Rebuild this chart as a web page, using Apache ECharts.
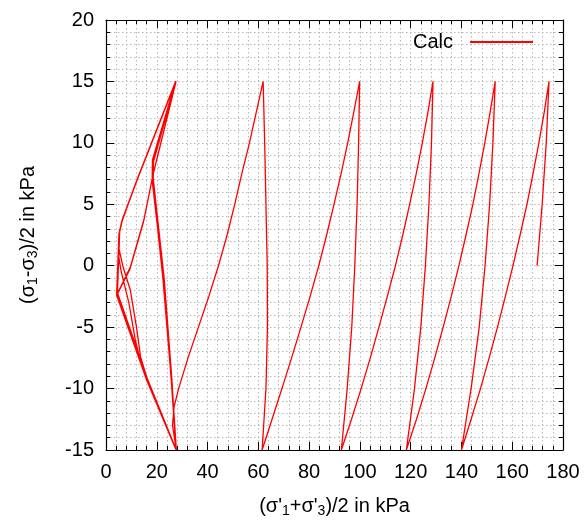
<!DOCTYPE html>
<html><head><meta charset="utf-8">
<script src="https://cdn.jsdelivr.net/npm/echarts@6/dist/echarts.min.js"></script>
<style>html,body{margin:0;padding:0;background:#fff}#c{width:588px;height:523px}</style>
</head><body><div id="c"></div>
<script>
// Axis settings / tick labels
const xTicks = [0,20,40,60,80,100,120,140,160,180];
const yTicks = [-15,-10,-5,0,5,10,15,20];
const seriesName = 'Calc';

// Stress path segments (p', q)
const startUp = [[169.8,0],[171.8,5],[173.4,10],[174.5,15]];
const down1 = [[172.6,12.5],[170.5,10],[168.2,7.5],[165.8,5],[163.1,2.5],[160.3,0],[157.3,-2.5],[154.2,-5],[150.9,-7.5],[147.5,-10],[143.8,-12.5],[140.0,-15]];
const up2 = [[143.8,-10],[147.0,-5],[149.3,0],[151.1,5],[152.4,10],[153.3,15]];
const down2 = [[151.3,12.5],[149.2,10],[146.9,7.5],[144.5,5],[141.8,2.5],[139.0,0],[136.0,-2.5],[132.8,-5],[129.5,-7.5],[126.0,-10],[122.3,-12.5],[118.3,-15]];
const up3 = [[121.5,-10],[124.0,-5],[125.8,0],[127.2,5],[128.2,10],[128.8,15]];
const down3 = [[126.8,12.5],[124.6,10],[122.2,7.5],[119.6,5],[116.9,2.5],[114.0,0],[110.8,-2.5],[107.5,-5],[104.1,-7.5],[100.5,-10],[96.7,-12.5],[92.7,-15]];
const up4 = [[95.0,-10],[96.8,-5],[98.0,0],[98.9,5],[99.5,10],[99.9,15]];
const down4 = [[97.6,12.5],[95.2,10],[92.6,7.5],[89.8,5],[86.9,2.5],[83.8,0],[80.4,-2.5],[76.8,-5],[73.1,-7.5],[69.3,-10],[65.4,-12.5],[61.5,-15]];
const up5 = [[63.0,-10],[63.6,-5],[63.5,0],[63.0,5],[62.5,10],[61.9,15]];
const down5 = [[59.2,12.5],[56.5,10],[53.5,7.5],[50.7,5],[47.7,2.5],[44.3,0],[40.5,-2.5],[36.4,-5],[32.3,-7.5],[28.6,-10],[26.8,-11.5],[26.2,-13],[27.7,-15]];
// butterfly cycles
const compA = [[25.8,-9.2],[22.6,-1.1],[18.3,7.0],[18.4,8.5],[27.5,15]];
const extA = [[12.3,7.0],[6.4,3.7],[5.4,2.8],[5.0,1.5],[6.6,0],[9.6,-2.0],[12.0,-5.0],[13.6,-7.4],[16.2,-9.2],[27.6,-15]];
const compB = [[25.6,-9.0],[22.4,-1.0],[18.2,7.2],[18.3,8.6],[27.4,15]];
const extB = [[12.2,7.0],[6.3,3.6],[5.2,2.6],[4.8,1.0],[6.0,-0.5],[9.0,-3.0],[11.5,-6.0],[13.6,-7.8],[16.4,-9.4],[27.7,-15]];
const compC = [[25.8,-9.2],[22.8,-1.1],[18.4,7.0],[18.5,8.5],[27.5,15]];
const extC = [[12.3,7.0],[6.4,3.7],[5.3,2.7],[4.4,-2.3],[16.2,-9.2],[27.7,-15]];
const compD = [[25.7,-9.1],[22.7,-1.0],[18.3,7.1],[18.4,8.6],[27.6,15]];
const extD = [[18.5,7.4],[14.9,3.7],[9.5,-0.2],[4.3,-2.4],[16.1,-9.3],[27.7,-15]];
const compE = [[25.8,-9.2],[22.8,-1.1],[18.4,7.0],[18.5,8.5],[27.5,15]];
const extE = [[12.4,7.1],[6.5,3.8],[5.4,2.8],[4.5,-2.2],[16.3,-9.2],[27.7,-15]];
const compF = [[25.9,-9.2],[22.9,-1.2],[18.5,7.0],[18.6,8.4],[27.6,15]];
const extF = [[18.6,7.5],[15.0,3.8],[9.6,-0.1],[4.4,-2.3],[16.2,-9.2],[27.6,-15]];
const compG = [[25.7,-9.3],[22.7,-1.2],[18.2,6.9],[18.3,8.4],[27.4,15]];
const extG = [[12.1,6.9],[6.2,3.6],[5.1,2.6],[4.2,-2.4],[16.0,-9.3],[27.6,-15]];
const compH = [[25.9,-9.1],[22.9,-1.0],[18.6,7.1],[18.7,8.6],[27.6,15]];
const extH = [[18.4,7.3],[14.8,3.6],[9.4,-0.3],[4.2,-2.4],[16.2,-9.3],[27.7,-15]];

const pathData = [].concat(startUp, down1, up2, down2, up3, down3, up4, down4, up5, down5,
  compA, extA, compB, extB, compC, extC, compD, extD, compE, extE, compF, extF, compG, extG, compH, extH);

const FONT = 'Liberation Sans, Arial, sans-serif';
const gridLine = {show:true, lineStyle:{color:'#b8b8b8', type:[1.5,2.5], width:1}};
function xAx(pos, show){
  return {type:'value', min:0, max:180, interval:20, position:pos,
    axisLine:{show:true, onZero:false, lineStyle:{color:'#000', width:1.2}},
    axisTick:{show:true, inside:true, length:8, lineStyle:{color:'#000'}},
    minorTick:{show:true, splitNumber:5, length:4, lineStyle:{color:'#000'}},
    splitLine: show ? gridLine : {show:false},
    minorSplitLine: show ? gridLine : {show:false},
    axisLabel:{show:show, color:'#000', fontSize:20, fontFamily:FONT, margin:12},
    name: show ? "(σ'{s|1}+σ'{s|3})/2 in kPa" : '', nameLocation:'middle', nameGap:44,
    nameTextStyle:{color:'#000', fontSize:20, fontFamily:FONT,
      rich:{s:{fontSize:14, fontFamily:FONT, color:'#000', padding:[10,0,0,0]}}}
  };
}
function yAx(pos, show){
  return {type:'value', min:-15, max:20, interval:5, position:pos,
    axisLine:{show:true, onZero:false, lineStyle:{color:'#000', width:1.2}},
    axisTick:{show:true, inside:true, length:8, lineStyle:{color:'#000'}},
    minorTick:{show:true, splitNumber:5, length:4, lineStyle:{color:'#000'}},
    splitLine: show ? gridLine : {show:false},
    minorSplitLine: show ? gridLine : {show:false},
    axisLabel:{show:show, color:'#000', fontSize:20, fontFamily:FONT, margin:12},
    name: show ? "(σ{s|1}-σ{s|3})/2 in kPa" : '', nameLocation:'middle', nameGap:66, nameRotate:90,
    nameTextStyle:{color:'#000', fontSize:20, fontFamily:FONT,
      rich:{s:{fontSize:14, fontFamily:FONT, color:'#000', padding:[10,0,0,0]}}}
  };
}
const chart = echarts.init(document.getElementById('c'), null, {renderer:'canvas'});
chart.setOption({
  animation:false,
  backgroundColor:'#fff',
  grid:{left:106, right:25, top:20, bottom:72, containLabel:false},
  xAxis:[xAx('bottom', true), xAx('top', false)],
  yAxis:[yAx('left', true), yAx('right', false)],
  legend:{show:true, left:408, top:27, align:'right', itemWidth:63, itemHeight:2,
    data:[{name:seriesName, icon:'rect'}],
    textStyle:{color:'#000', fontSize:20, fontFamily:FONT, padding:[0,12,0,0]}},
  series:[{name:seriesName, type:'line', data:pathData, showSymbol:false, symbol:'none',
    xAxisIndex:0, yAxisIndex:0,
    lineStyle:{color:'#ff0000', width:1.3}, itemStyle:{color:'#ff0000'}}]
});
</script></body></html>
